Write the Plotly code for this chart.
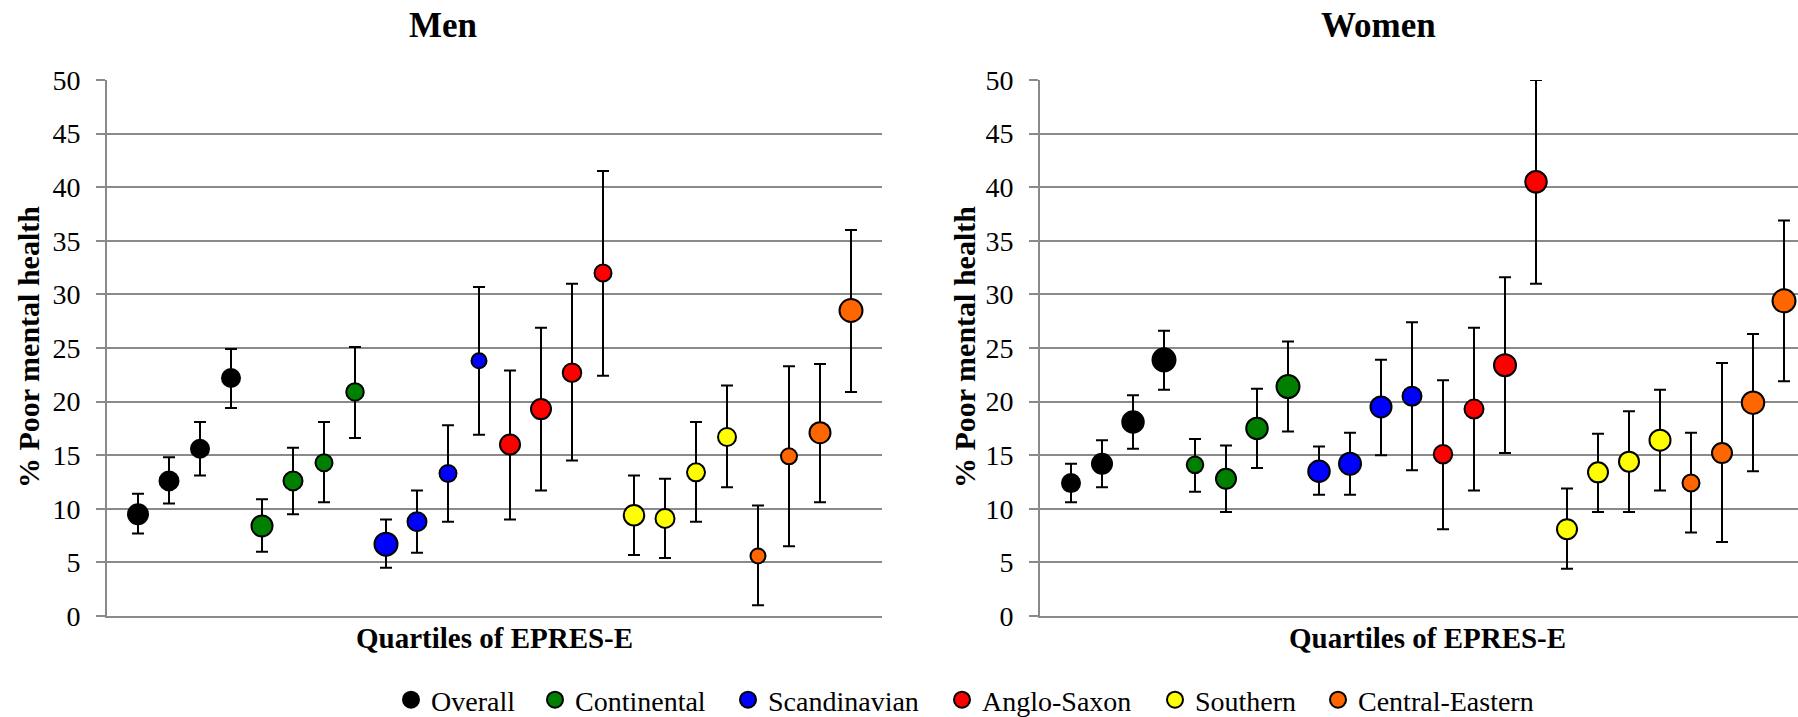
import plotly.graph_objects as go

W, H = 1798, 717

# ---------------- data ----------------
regions = ["Overall", "Continental", "Scandinavian", "Anglo-Saxon", "Southern", "Central-Eastern"]
colors = ["#000000", "#008000", "#0000FF", "#FF0000", "#FFFF00", "#FF6600"]

# Men: 4 quartiles per region (estimate, lower CI, upper CI)
men_est = [9.5, 12.6, 15.6, 22.2,
           8.4, 12.6, 14.3, 20.9,
           6.7, 8.8, 13.3, 23.8,
           16.0, 19.3, 22.7, 32.0,
           9.4, 9.1, 13.4, 16.7,
           5.6, 14.9, 17.1, 28.5]
men_lo = [7.7, 10.5, 13.1, 19.4,
          6.0, 9.5, 10.6, 16.6,
          4.5, 5.9, 8.8, 16.9,
          9.0, 11.7, 14.5, 22.4,
          5.7, 5.4, 8.8, 12.0,
          1.0, 6.5, 10.6, 20.9]
men_hi = [11.4, 14.8, 18.1, 24.9,
          10.9, 15.7, 18.1, 25.1,
          9.0, 11.7, 17.8, 30.7,
          22.9, 26.9, 31.0, 41.5,
          13.1, 12.8, 18.1, 21.5,
          10.3, 23.3, 23.5, 36.0]
men_size = [22, 21, 20, 20,
            23, 21, 19, 19.5,
            25, 21, 19, 17,
            22, 22, 20.5, 19,
            22.5, 21, 20, 20,
            17, 18, 23, 25]

# Women
women_est = [12.4, 14.2, 18.1, 23.9,
             14.1, 12.8, 17.5, 21.4,
             13.5, 14.2, 19.5, 20.5,
             15.1, 19.3, 23.4, 40.5,
             8.1, 13.4, 14.4, 16.4,
             12.4, 15.2, 19.9, 29.4]
women_lo = [10.6, 12.0, 15.6, 21.1,
            11.6, 9.7, 13.8, 17.2,
            11.3, 11.3, 15.0, 13.6,
            8.1, 11.7, 15.2, 31.0,
            4.4, 9.7, 9.7, 11.7,
            7.8, 6.9, 13.5, 21.9]
women_hi = [14.2, 16.4, 20.6, 26.6,
            16.5, 15.9, 21.2, 25.6,
            15.8, 17.1, 23.9, 27.4,
            22.0, 26.9, 31.6, 50.0,
            11.9, 17.0, 19.1, 21.1,
            17.1, 23.6, 26.3, 36.9]
women_size = [20, 22, 23.5, 25,
              18.5, 22, 23.5, 25,
              23.5, 24, 23, 21,
              20.5, 21, 24, 23.5,
              22, 22, 22, 23,
              19, 22, 24.5, 25]

quartiles = ["Q1", "Q2", "Q3", "Q4"]

# ---------------- figure ----------------
FONT = "Liberation Serif, Times New Roman, Times, serif"
GRID = "#8a8a8a"
fig = go.Figure()

def px(x):
    return x / W

def py(y):
    return 1 - y / H

legend_ids = ["legend", "legend2", "legend3", "legend4", "legend5", "legend6"]
legend_marker_x = [412, 556, 749, 963, 1176, 1339]   # pixel centre of legend symbols

for panel, (est, lo, hi, sz, xa, ya) in enumerate([
        (men_est, men_lo, men_hi, men_size, "x", "y"),
        (women_est, women_lo, women_hi, women_size, "x2", "y2")]):
    for r, name in enumerate(regions):
        idx = list(range(r * 4, r * 4 + 4))
        xs = [i + 1 for i in idx]
        ys = [est[i] for i in idx]
        up = [hi[i] - est[i] for i in idx]
        dn = [est[i] - lo[i] for i in idx]
        fig.add_trace(go.Scatter(
            x=xs, y=ys, mode="markers", name=name,
            legendgroup=name, showlegend=(panel == 0), legend=legend_ids[r],
            xaxis=xa, yaxis=ya,
            text=[f"{name} {q}" for q in quartiles],
            marker=dict(color=colors[r], opacity=1,
                        size=[sz[i] - 2 for i in idx],
                        line=dict(color="black", width=2)),
            error_y=dict(type="data", symmetric=False, array=up, arrayminus=dn,
                         color="black", thickness=2, width=6),
            cliponaxis=False,
        ))

yax = dict(range=[0, 50], dtick=5, tick0=0, showgrid=True, gridcolor=GRID, gridwidth=2,
           showline=True, linecolor=GRID, linewidth=2, ticks="outside", ticklen=9,
           tickcolor=GRID, tickwidth=2, zeroline=False, automargin=False,
           tickfont=dict(family=FONT, size=28, color="black"), ticklabelstandoff=10,
           fixedrange=True)
xax = dict(showgrid=False, showticklabels=False, ticks="", zeroline=False, automargin=False,
           showline=True, linecolor=GRID, linewidth=2, fixedrange=True)

legends = {}
for lid, mx in zip(legend_ids, legend_marker_x):
    legends[lid] = dict(orientation="h", x=px(mx - 21), xanchor="left", y=py(700), yanchor="middle",
                        font=dict(family=FONT, size=28, color="black"),
                        bgcolor="rgba(0,0,0,0)", borderwidth=0,
                        itemclick=False, itemdoubleclick=False)

fig.update_layout(
    width=W, height=H, margin=dict(l=0, r=0, t=0, b=0, autoexpand=False),
    paper_bgcolor="white", plot_bgcolor="white",
    font=dict(family=FONT, color="black"),
    xaxis=dict(xax, domain=[px(107), px(882)], range=[0, 25], anchor="y"),
    yaxis=dict(yax, domain=[py(616), py(80)], anchor="x"),
    xaxis2=dict(xax, domain=[px(1040), 1.0], range=[0, (W - 1040) / 31], anchor="y2"),
    yaxis2=dict(yax, domain=[py(616), py(80)], anchor="x2"),
    showlegend=True,
    **legends,
)

ann = [
    dict(text="<b>Men</b>", x=px(443), y=py(26), font=dict(size=35)),
    dict(text="<b>Women</b>", x=px(1378), y=py(26), font=dict(size=35)),
    dict(text="<b>Quartiles of EPRES-E</b>", x=px(494), y=py(638), font=dict(size=29)),
    dict(text="<b>Quartiles of EPRES-E</b>", x=px(1427), y=py(638), font=dict(size=29)),
    dict(text="<b>% Poor mental health</b>", x=px(28), y=py(347), textangle=-90, font=dict(size=30)),
    dict(text="<b>% Poor mental health</b>", x=px(964), y=py(347), textangle=-90, font=dict(size=30)),
]
for a in ann:
    a["font"].update(family=FONT, color="black")
    fig.add_annotation(xref="paper", yref="paper", showarrow=False,
                       xanchor="center", yanchor="middle", **a)

fig.write_html("out.html", config={"displayModeBar": False},
               post_script="document.body.style.margin='0';document.body.style.overflow='hidden';")
